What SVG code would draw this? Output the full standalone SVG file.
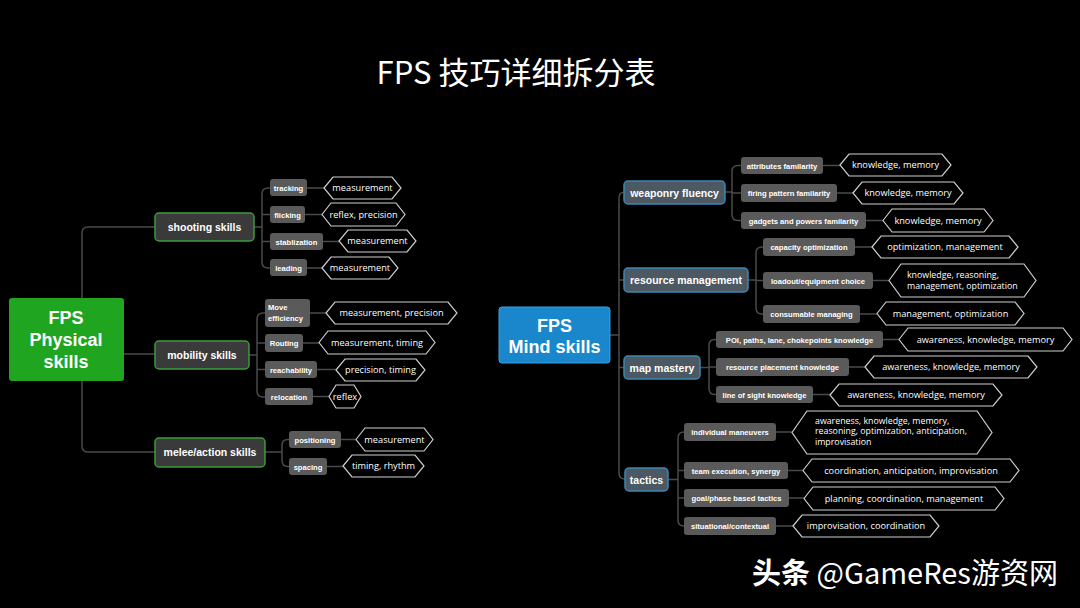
<svg xmlns="http://www.w3.org/2000/svg" width="1080" height="608" viewBox="0 0 1080 608">
<style>
.t{font-family:"Liberation Sans",Arial,sans-serif;fill:#fff;font-weight:bold}
.main{font-size:10.5px;text-anchor:middle}
.sub{font-size:7.6px;text-anchor:middle}
.subl{font-size:7.6px}
.hx{font-family:"Open Sans","DejaVu Sans",sans-serif;font-size:9.2px;fill:#fff;text-anchor:middle}
.hxl{font-family:"Open Sans","DejaVu Sans",sans-serif;font-size:8.8px;fill:#fff}
.hex{fill:#000;stroke:#cfcfcf;stroke-width:1.2}
.sr{fill:#5a5a5a}
.gn{fill:#3a3a3a;stroke:#3d9b3d;stroke-width:1.5}
.bn{fill:#4c5862;stroke:#3b86b4;stroke-width:1.5}
.conn path{fill:none;stroke:#4a4a4a;stroke-width:1.5}
.root{font-size:18px;text-anchor:middle}
</style>
<rect width="1080" height="608" fill="#000"/>
<text x="516" y="84" font-family="'Noto Sans CJK SC',sans-serif" font-size="31" fill="#fff" text-anchor="middle">FPS 技巧详细拆分表</text>

<g class="conn">
<path d="M155,227 H88 Q82,227 82,233 V446 Q82,452 88,452 H155 M124,354 H155"/>
<path d="M254,227 H262 M270,188 H268 Q262,188 262,194 V262 Q262,268 268,268 H270 M262,214.5 H270 M262,241.5 H270"/>
<path d="M307,188 H324 M305,214.5 H322 M323,241.5 H339 M307,268 H322"/>
<path d="M249,355 H257 M265,313 H263 Q257,313 257,319 V391 Q257,397 263,397 H265 M257,343 H265 M257,369.5 H265"/>
<path d="M310,313 H326 M303,343 H319 M317,369.5 H336 M313,396.5 H329"/>
<path d="M265,452 H282 M289,439.5 H288 Q282,439.5 282,445.5 V460.5 Q282,466.5 288,466.5 H289"/>
<path d="M341,439.5 H356 M327,466.5 H343"/>
<path d="M624,192 H625 Q619,192 619,198 V473 Q619,479 625,479 H625 M610,335 H619 M619,280 H624 M619,367.5 H624"/>
<path d="M725,192 H732 M741,165.5 H738 Q732,165.5 732,171.5 V214.5 Q732,220.5 738,220.5 H741 M732,193 H741"/>
<path d="M823,165.5 H840 M837,193 H853 M866,220.5 H883"/>
<path d="M748,280 H756 M763,247 H762 Q756,247 756,253 V308 Q756,314 762,314 H763 M756,280.5 H763"/>
<path d="M855,247 H872 M873,280.5 H889 M860,314 H877"/>
<path d="M700,367.5 H709 M716,339.5 H715 Q709,339.5 709,345.5 V388.5 Q709,394.5 715,394.5 H716 M709,367 H716"/>
<path d="M883,339.5 H899 M849,367 H865 M813,394.5 H830"/>
<path d="M668,479.5 H678 M684,432 H684 Q678,432 678,438 V520 Q678,526 684,526 M678,470.5 H684 M678,498 H684"/>
<path d="M776,432 H792 M788,470.5 H803 M789,498 H804 M776,526 H793"/>
</g>

<g id="root-physical">
<rect x="9" y="298" width="115" height="83" rx="3" fill="#1fa51f"/>
<text class="t root" x="66" y="324">FPS</text>
<text class="t root" x="66" y="346">Physical</text>
<text class="t root" x="66" y="368">skills</text>
</g>
<g id="shooting"><rect class="gn" x="155" y="213" width="99" height="28" rx="4"/><text class="t main" x="204.5" y="231">shooting skills</text></g>
<g id="mobility"><rect class="gn" x="155" y="341" width="94" height="28" rx="4"/><text class="t main" x="202" y="359">mobility skills</text></g>
<g id="melee"><rect class="gn" x="155" y="438" width="110" height="29" rx="4"/><text class="t main" x="210" y="456">melee/action skills</text></g>

<g id="tracking"><rect class="sr" x="270" y="179" width="37" height="17" rx="3"/><text class="t sub" x="288.5" y="190.5">tracking</text></g>
<g id="flicking"><rect class="sr" x="270" y="206" width="35" height="17" rx="3"/><text class="t sub" x="287.5" y="217.5">flicking</text></g>
<g id="stablization"><rect class="sr" x="270" y="233" width="53" height="17" rx="3"/><text class="t sub" x="296.5" y="244.5">stablization</text></g>
<g id="leading"><rect class="sr" x="270" y="259" width="37" height="17" rx="3"/><text class="t sub" x="288.5" y="270.5">leading</text></g>
<g id="move-eff"><rect class="sr" x="265" y="299" width="45" height="28" rx="3"/><text class="t subl" x="268" y="310">Move</text><text class="t subl" x="268" y="321">efficiency</text></g>
<g id="routing"><rect class="sr" x="265" y="334" width="38" height="18" rx="3"/><text class="t sub" x="284" y="345.5">Routing</text></g>
<g id="reach"><rect class="sr" x="265" y="361" width="52" height="17" rx="3"/><text class="t sub" x="291" y="372.5">reachability</text></g>
<g id="reloc"><rect class="sr" x="265" y="388" width="48" height="17" rx="3"/><text class="t sub" x="289" y="399.5">relocation</text></g>
<g id="positioning"><rect class="sr" x="289" y="431" width="52" height="17" rx="3"/><text class="t sub" x="315" y="442.5">positioning</text></g>
<g id="spacing"><rect class="sr" x="289" y="458" width="38" height="17" rx="3"/><text class="t sub" x="308" y="469.5">spacing</text></g>

<g id="h1"><path class="hex" d="M324,188 L333,177 H392 L401,188 L392,199 H333 Z"/><text class="hx" x="362.5" y="191.3">measurement</text></g>
<g id="h2"><path class="hex" d="M322,214.5 L331,203 H396 L405,214.5 L396,226 H331 Z"/><text class="hx" x="363.5" y="217.8">reflex, precision</text></g>
<g id="h3"><path class="hex" d="M339,241 L348,230 H407 L416,241 L407,252 H348 Z"/><text class="hx" x="377.5" y="244.3">measurement</text></g>
<g id="h4"><path class="hex" d="M322,268 L331,257 H389 L398,268 L389,279 H331 Z"/><text class="hx" x="360" y="271.3">measurement</text></g>
<g id="h5"><path class="hex" d="M326,313 L335,302 H448 L457,313 L448,324 H335 Z"/><text class="hx" x="391.5" y="316.3">measurement, precision</text></g>
<g id="h6"><path class="hex" d="M319,342.5 L328,331 H426 L435,342.5 L426,354 H328 Z"/><text class="hx" x="377" y="345.8">measurement, timing</text></g>
<g id="h7"><path class="hex" d="M336,370 L345,359 H416 L425,370 L416,381 H345 Z"/><text class="hx" x="380.5" y="373.3">precision, timing</text></g>
<g id="h8"><path class="hex" d="M329,396.5 L336,385 H354 L361,396.5 L354,408 H336 Z"/><text class="hx" x="345" y="399.8">reflex</text></g>
<g id="h9"><path class="hex" d="M356,439.5 L365,428 H424 L433,439.5 L424,451 H365 Z"/><text class="hx" x="394.5" y="442.8">measurement</text></g>
<g id="h10"><path class="hex" d="M343,466 L352,455 H415 L424,466 L415,477 H352 Z"/><text class="hx" x="383.5" y="469.3">timing, rhythm</text></g>

<g id="root-mind">
<rect x="499" y="307" width="111" height="56" rx="3" fill="#1a86cc" stroke="#3aa0e0" stroke-width="1"/>
<text class="t root" x="554.5" y="332">FPS</text>
<text class="t root" x="554.5" y="353">Mind skills</text>
</g>
<g id="weaponry"><rect class="bn" x="624" y="181" width="101" height="23" rx="4"/><text class="t main" x="674.5" y="196.5">weaponry fluency</text></g>
<g id="resource"><rect class="bn" x="624" y="268" width="124" height="24" rx="4"/><text class="t main" x="686" y="283.5">resource management</text></g>
<g id="map"><rect class="bn" x="624" y="356" width="76" height="23" rx="4"/><text class="t main" x="662" y="371.5">map mastery</text></g>
<g id="tactics"><rect class="bn" x="625" y="468" width="43" height="23" rx="4"/><text class="t main" x="646.5" y="483.5">tactics</text></g>

<g id="attr"><rect class="sr" x="741" y="157" width="82" height="17" rx="3"/><text class="t sub" x="782" y="168.5">attributes familarity</text></g>
<g id="firing"><rect class="sr" x="741" y="184" width="96" height="18" rx="3"/><text class="t sub" x="789" y="195.5">firing pattern familarity</text></g>
<g id="gadgets"><rect class="sr" x="741" y="212" width="125" height="17" rx="3"/><text class="t sub" x="803.5" y="223.5">gadgets and powers familarity</text></g>
<g id="capacity"><rect class="sr" x="763" y="238" width="92" height="18" rx="3"/><text class="t sub" x="809" y="249.5">capacity optimization</text></g>
<g id="loadout"><rect class="sr" x="763" y="272" width="110" height="17" rx="3"/><text class="t sub" x="818" y="283.5">loadout/equipment choice</text></g>
<g id="consumable"><rect class="sr" x="763" y="305" width="97" height="18" rx="3"/><text class="t sub" x="811.5" y="316.5">consumable managing</text></g>
<g id="poi"><rect class="sr" x="716" y="331" width="167" height="17" rx="3"/><text class="t sub" x="799.5" y="342.5">POI, paths, lane, chokepoints knowledge</text></g>
<g id="resplace"><rect class="sr" x="716" y="358" width="133" height="18" rx="3"/><text class="t sub" x="782.5" y="369.5">resource placement knowledge</text></g>
<g id="los"><rect class="sr" x="716" y="386" width="97" height="17" rx="3"/><text class="t sub" x="764.5" y="397.5">line of sight knowledge</text></g>
<g id="indiv"><rect class="sr" x="684" y="423" width="92" height="18" rx="3"/><text class="t sub" x="730" y="434.5">individual maneuvers</text></g>
<g id="team"><rect class="sr" x="684" y="462" width="104" height="17" rx="3"/><text class="t sub" x="736" y="473.5">team execution, synergy</text></g>
<g id="goal"><rect class="sr" x="684" y="489" width="105" height="18" rx="3"/><text class="t sub" x="736.5" y="500.5">goal/phase based tactics</text></g>
<g id="situ"><rect class="sr" x="684" y="517" width="92" height="18" rx="3"/><text class="t sub" x="730" y="528.5">situational/contextual</text></g>

<g id="rh1"><path class="hex" d="M840,165 L849,154 H942 L951,165 L942,176 H849 Z"/><text class="hx" x="895.5" y="168.3">knowledge, memory</text></g>
<g id="rh2"><path class="hex" d="M853,193 L862,182 H954 L963,193 L954,204 H862 Z"/><text class="hx" x="908" y="196.3">knowledge, memory</text></g>
<g id="rh3"><path class="hex" d="M883,220.5 L892,209 H984 L993,220.5 L984,232 H892 Z"/><text class="hx" x="938" y="223.8">knowledge, memory</text></g>
<g id="rh4"><path class="hex" d="M872,247 L881,236 H1009 L1018,247 L1009,258 H881 Z"/><text class="hx" x="945" y="250.3">optimization, management</text></g>
<g id="rh5"><path class="hex" d="M889,280.5 L901,264 H1024 L1036,280.5 L1024,297 H901 Z"/><text class="hxl" x="907" y="277.5">knowledge, reasoning,</text><text class="hxl" x="907" y="288.5">management, optimization</text></g>
<g id="rh6"><path class="hex" d="M877,313.5 L886,302 H1015 L1024,313.5 L1015,325 H886 Z"/><text class="hx" x="950.5" y="316.8">management, optimization</text></g>
<g id="rh7"><path class="hex" d="M899,339.5 L908,328 H1063 L1072,339.5 L1063,351 H908 Z"/><text class="hx" x="985.5" y="342.8">awareness, knowledge, memory</text></g>
<g id="rh8"><path class="hex" d="M865,367 L874,356 H1028 L1037,367 L1028,378 H874 Z"/><text class="hx" x="951" y="370.3">awareness, knowledge, memory</text></g>
<g id="rh9"><path class="hex" d="M830,395 L839,384 H993 L1002,395 L993,406 H839 Z"/><text class="hx" x="916" y="398.3">awareness, knowledge, memory</text></g>
<g id="rh10"><path class="hex" d="M792,432.5 L807,411 H977 L992,432.5 L977,454 H807 Z"/><text class="hxl" x="815" y="423.5">awareness, knowledge, memory,</text><text class="hxl" x="815" y="434.3">reasoning, optimization, anticipation,</text><text class="hxl" x="815" y="445.1">improvisation</text></g>
<g id="rh11"><path class="hex" d="M803,470.5 L812,459 H1010 L1019,470.5 L1010,482 H812 Z"/><text class="hx" x="911" y="473.8">coordination, anticipation, improvisation</text></g>
<g id="rh12"><path class="hex" d="M804,498.5 L813,487 H995 L1004,498.5 L995,510 H813 Z"/><text class="hx" x="904" y="501.8">planning, coordination, management</text></g>
<g id="rh13"><path class="hex" d="M793,526 L802,515 H930 L939,526 L930,537 H802 Z"/><text class="hx" x="866" y="529.3">improvisation, coordination</text></g>

<text x="752" y="584" font-family="'Noto Sans CJK SC',sans-serif" font-size="29" fill="#fff"><tspan font-weight="bold">头条</tspan> @GameRes游资网</text>
</svg>
